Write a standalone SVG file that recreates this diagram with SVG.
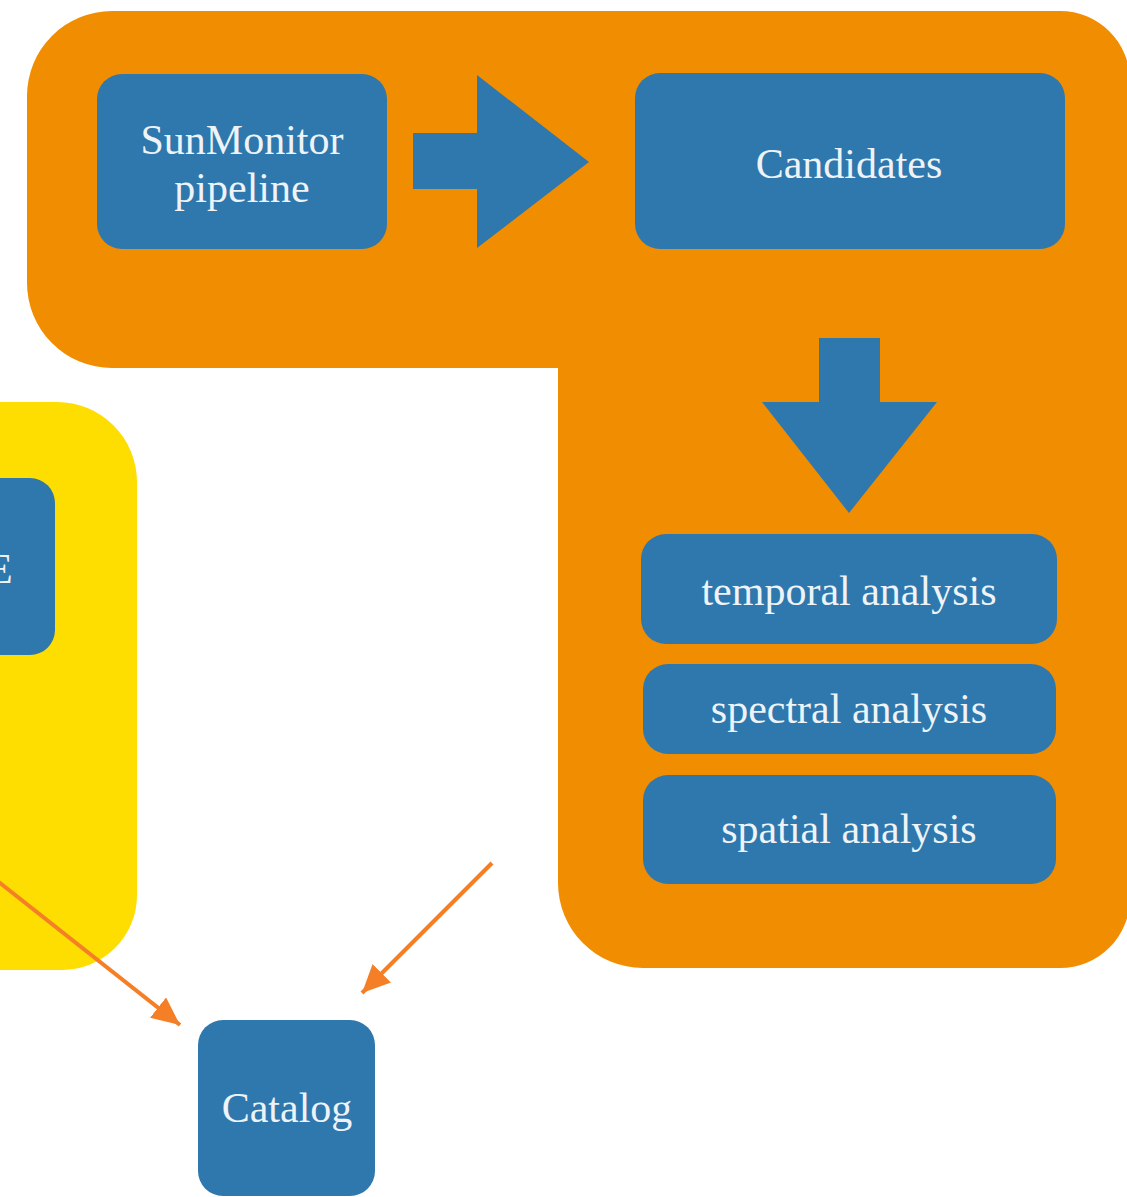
<svg xmlns="http://www.w3.org/2000/svg" width="1127" height="1197" viewBox="0 0 1127 1197">
  <style>
    .box { fill: #2E78AE; }
    .arrowshape { fill: #2E78AE; }
    .lbl { font-family: "Liberation Serif", "Times New Roman", serif; font-size: 42px; fill: #EEF3F7; text-anchor: middle; }
    .conn { stroke: #F57F27; stroke-width: 4; fill: none; }
  </style>
  <defs>
    <marker id="ah" markerUnits="userSpaceOnUse" markerWidth="30" markerHeight="26" refX="28" refY="13" orient="auto">
      <path d="M0,0 L28,13 L0,26 Z" fill="#F57F27"/>
    </marker>
  </defs>
  <rect width="1127" height="1197" fill="#FFFFFF"/>

  <g id="yellow-group">
    <path d="M-60,402 L57,402 A80,80 0 0 1 137,482 L137,895 A75,75 0 0 1 62,970 L-60,970 Z" fill="#FEDD00"/>
  </g>

  <g id="orange-group">
    <path d="M112,11 L1060,11 A70,70 0 0 1 1130,81 L1130,898 A70,70 0 0 1 1060,968 L643,968 A85,85 0 0 1 558,883 L558,368 L112,368 A85,85 0 0 1 27,283 L27,96 A85,85 0 0 1 112,11 Z" fill="#F18D00"/>
  </g>

  <g id="node-cutoff">
    <rect class="box" x="-100" y="478" width="155" height="177" rx="25"/>
    <text class="lbl" x="-13" y="583" style="text-anchor:start">E</text>
  </g>

  <g id="node-sunmonitor">
    <rect class="box" x="97" y="74" width="290" height="175" rx="25"/>
    <text class="lbl" x="242" y="154">SunMonitor</text>
    <text class="lbl" x="242" y="202">pipeline</text>
  </g>

  <g id="node-candidates">
    <rect class="box" x="635" y="73" width="430" height="176" rx="25"/>
    <text class="lbl" x="849" y="178">Candidates</text>
  </g>

  <g id="node-temporal">
    <rect class="box" x="641" y="534" width="416" height="110" rx="25"/>
    <text class="lbl" x="849" y="605">temporal analysis</text>
  </g>

  <g id="node-spectral">
    <rect class="box" x="643" y="664" width="413" height="90" rx="25"/>
    <text class="lbl" x="849" y="723">spectral analysis</text>
  </g>

  <g id="node-spatial">
    <rect class="box" x="643" y="775" width="413" height="109" rx="25"/>
    <text class="lbl" x="849" y="843">spatial analysis</text>
  </g>

  <g id="node-catalog">
    <rect class="box" x="198" y="1020" width="177" height="176" rx="25"/>
    <text class="lbl" x="287" y="1122">Catalog</text>
  </g>

  <g id="connectors">
    <polygon class="arrowshape" points="413,133 477,133 477,75 589,162 477,248 477,189 413,189"/>
    <polygon class="arrowshape" points="819,338 880,338 880,402 937,402 849,513 762,402 819,402"/>
    <line class="conn" x1="-5" y1="879" x2="180" y2="1025" marker-end="url(#ah)"/>
    <line class="conn" x1="492" y1="863" x2="362" y2="993" marker-end="url(#ah)"/>
  </g>
</svg>
